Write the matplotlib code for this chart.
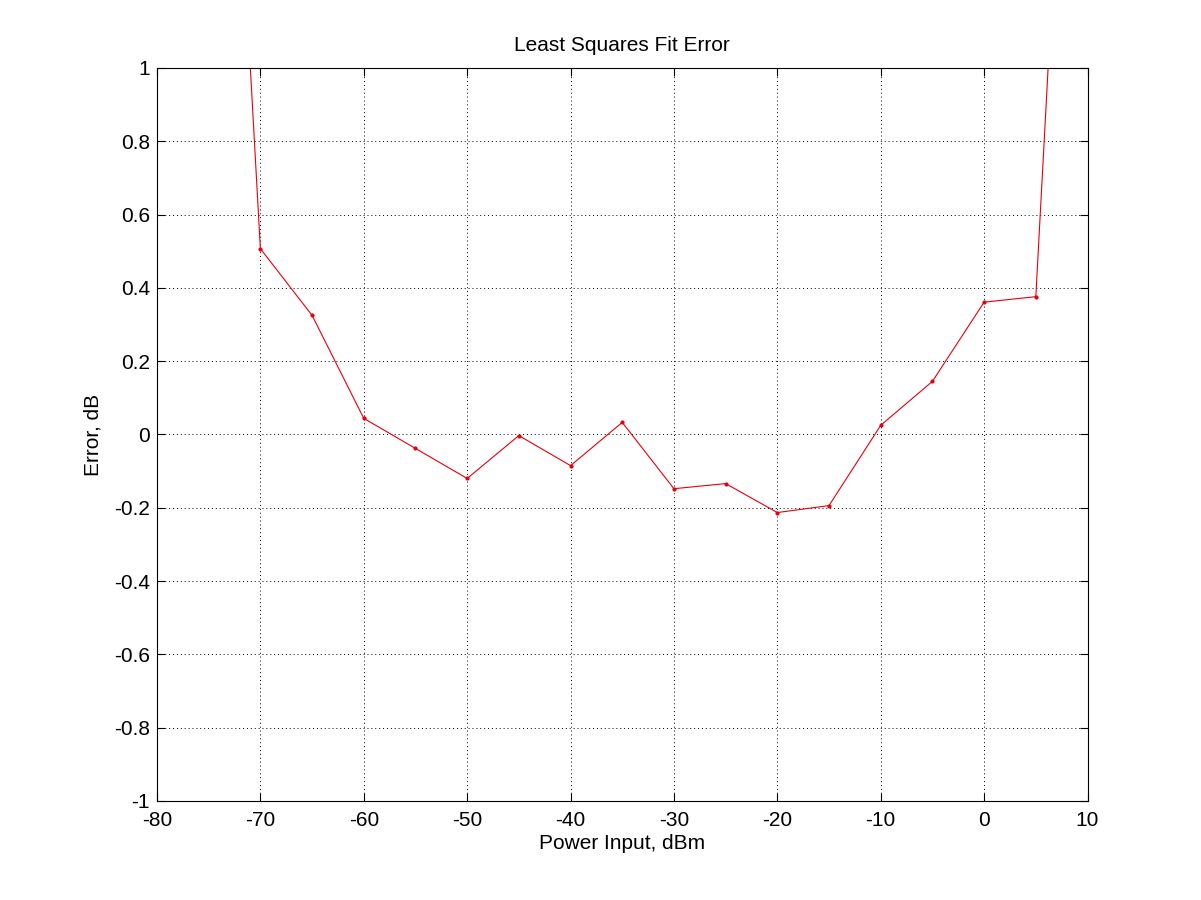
import matplotlib
matplotlib.use("Agg")
import matplotlib.pyplot as plt

power_dbm = [-75, -70, -65, -60, -55, -50, -45, -40, -35, -30, -25, -20, -15, -10, -5, 0, 5, 10]
error_db = [3.05, 0.507, 0.325, 0.044, -0.038, -0.120, -0.003, -0.085, 0.033,
            -0.148, -0.134, -0.213, -0.194, 0.025, 0.145, 0.361, 0.376, 3.0]
xticks = [-80, -70, -60, -50, -40, -30, -20, -10, 0, 10]
yticks = [-1, -0.8, -0.6, -0.4, -0.2, 0, 0.2, 0.4, 0.6, 0.8, 1]
ytick_labels = ["-1", "-0.8", "-0.6", "-0.4", "-0.2", "0", "0.2", "0.4", "0.6", "0.8", "1"]

plt.rcParams['font.family'] = ['Liberation Sans', 'DejaVu Sans']
fig = plt.figure(figsize=(12.01, 9.0), dpi=100)
ax = fig.add_axes([0.1307, 0.11, 0.7748, 0.8145])
ax.plot(power_dbm, error_db, color=(0.9, 0, 0.05), linewidth=0.8, marker='.', markersize=4)
ax.set_xlim(-80, 10)
ax.set_ylim(-1, 1)
ax.set_xticks(xticks)
ax.set_xticklabels([str(v) for v in xticks])
ax.set_yticks(yticks)
ax.set_yticklabels(ytick_labels)
ax.grid(True, linestyle=(0, (1, 3)), color='black', linewidth=0.7)
ax.tick_params(direction='in', top=True, right=True, length=6, width=0.8, labelsize=15)
ax.tick_params(axis='x', pad=7)
ax.tick_params(axis='y', pad=5)
for s in ax.spines.values():
    s.set_linewidth(0.8)
ax.set_title("Least Squares Fit Error", fontsize=15, pad=12)
ax.set_xlabel("Power Input, dBm", fontsize=15, labelpad=3)
ax.set_ylabel("Error, dB", fontsize=15, labelpad=8)
fig.savefig("out.png", dpi=100)
